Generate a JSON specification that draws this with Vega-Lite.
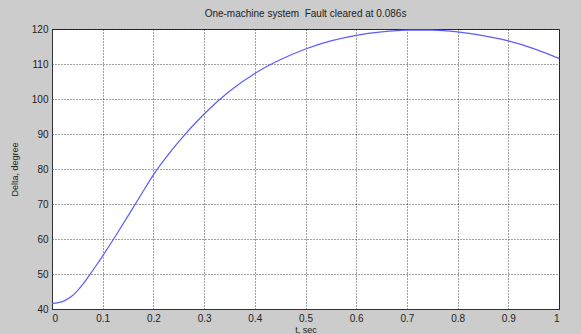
{
  "$schema": "https://vega.github.io/schema/vega-lite/v6.json",
  "autosize": "none",
  "width": 507,
  "height": 280,
  "padding": {"left": 52, "top": 29, "right": 22, "bottom": 25},
  "background": "#cccccc",
  "title": {
    "text": "One-machine system\u00a0 Fault cleared at 0.086s",
    "font": "Liberation Sans",
    "fontSize": 10,
    "fontWeight": "normal",
    "color": "#222222",
    "offset": 5,
    "anchor": "middle"
  },
  "config": {
    "view": {"fill": "white", "stroke": "#333333", "strokeWidth": 1},
    "axis": {
      "labelFont": "Liberation Sans",
      "labelFontSize": 10,
      "labelColor": "#222222",
      "titleFont": "Liberation Sans",
      "titleFontSize": 9,
      "titleFontWeight": "normal",
      "titleColor": "#222222",
      "domainColor": "#333333",
      "grid": true,
      "gridColor": "#000000",
      "gridDash": [1, 2],
      "gridOpacity": 0.75,
      "tickSize": 0,
      "labelPadding": 4
    }
  },
  "data": {
    "values": [
      {"t": 0, "delta": 41.6},
      {"t": 0.0125, "delta": 41.8},
      {"t": 0.025, "delta": 42.4},
      {"t": 0.0375, "delta": 43.5},
      {"t": 0.05, "delta": 45.2},
      {"t": 0.0625, "delta": 47.4},
      {"t": 0.075, "delta": 49.9},
      {"t": 0.0875, "delta": 52.5},
      {"t": 0.1, "delta": 55.2},
      {"t": 0.125, "delta": 60.8},
      {"t": 0.15, "delta": 66.6},
      {"t": 0.175, "delta": 72.5},
      {"t": 0.2, "delta": 78.3},
      {"t": 0.25, "delta": 87.8},
      {"t": 0.3, "delta": 95.7},
      {"t": 0.35, "delta": 102.2},
      {"t": 0.4, "delta": 107.3},
      {"t": 0.45, "delta": 111.2},
      {"t": 0.5, "delta": 114.3},
      {"t": 0.55, "delta": 116.6},
      {"t": 0.6, "delta": 118.2},
      {"t": 0.65, "delta": 119.2},
      {"t": 0.7, "delta": 119.7},
      {"t": 0.75, "delta": 119.7},
      {"t": 0.8, "delta": 119.2},
      {"t": 0.85, "delta": 118.1},
      {"t": 0.9, "delta": 116.6},
      {"t": 0.95, "delta": 114.4},
      {"t": 1.0, "delta": 111.6}
    ]
  },
  "mark": {"type": "line", "color": "#5c5cff", "strokeWidth": 1.2, "interpolate": "monotone", "clip": true},
  "encoding": {
    "x": {
      "field": "t",
      "type": "quantitative",
      "scale": {"domain": [0, 1], "nice": false, "zero": false},
      "axis": {"title": "t, sec", "values": [0, 0.1, 0.2, 0.3, 0.4, 0.5, 0.6, 0.7, 0.8, 0.9, 1], "format": "~g", "titlePadding": 2}
    },
    "y": {
      "field": "delta",
      "type": "quantitative",
      "scale": {"domain": [40, 120], "nice": false, "zero": false},
      "axis": {"title": "Delta, degree", "values": [40, 50, 60, 70, 80, 90, 100, 110, 120], "titlePadding": 12}
    }
  }
}
